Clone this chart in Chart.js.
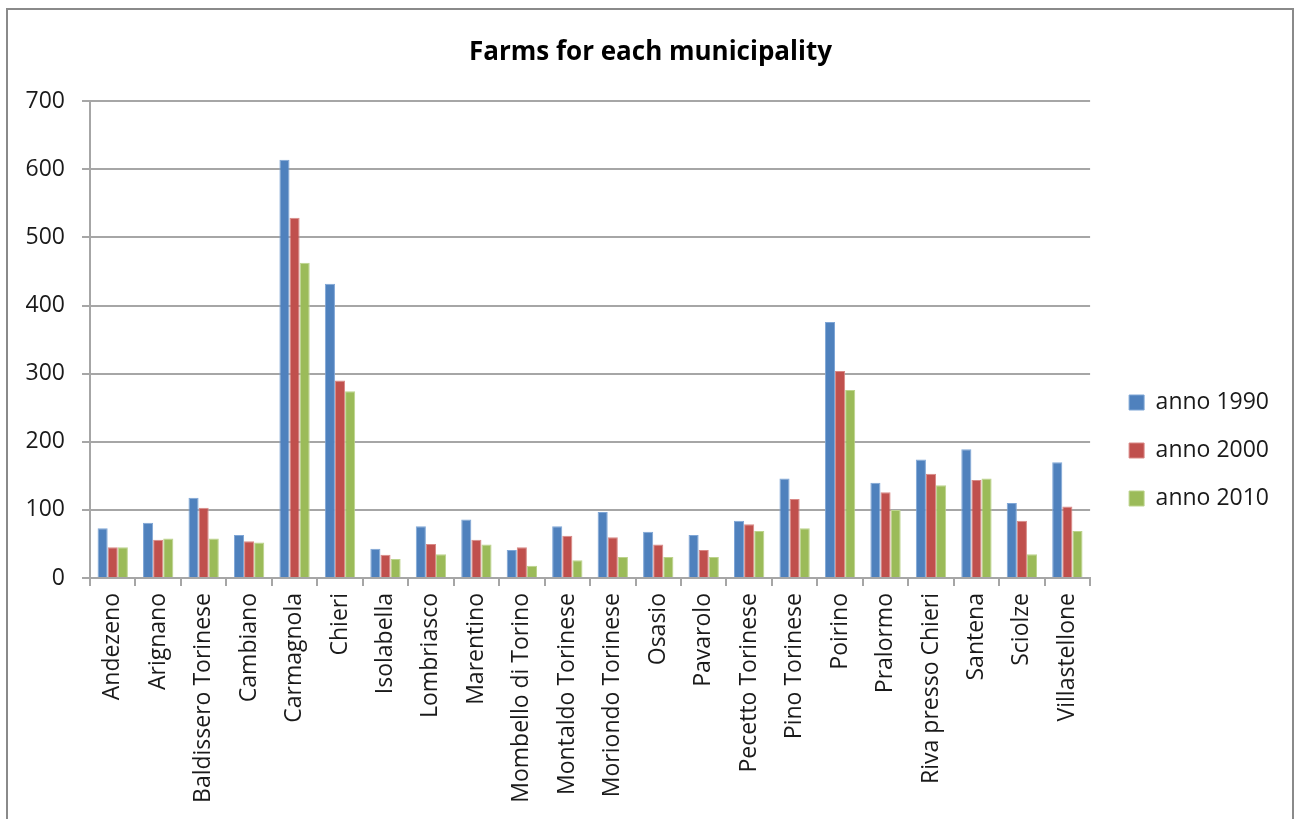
<!DOCTYPE html>
<html>
<head>
<meta charset="utf-8">
<title>Farms for each municipality</title>
<script src="https://cdn.jsdelivr.net/npm/chart.js@4.4.1/dist/chart.umd.min.js"></script>
<style>
  html, body { margin: 0; padding: 0; background: #fff; overflow: hidden; }
  #frame {
    position: absolute; left: 6px; top: 8px; width: 1288px; height: 900px;
    box-sizing: border-box; border: 2px solid #8a8a8a;
  }
  #wrap { position: absolute; left: 0; top: 0; width: 1295px; height: 819px; }
</style>
</head>
<body>
<div id="frame"></div>
<div id="wrap"><canvas id="farms-canvas" width="1295" height="819"></canvas></div>
<script>
const municipalities = [
    'Andezeno', 'Arignano', 'Baldissero Torinese', 'Cambiano', 'Carmagnola', 'Chieri',
    'Isolabella', 'Lombriasco', 'Marentino', 'Mombello di Torino', 'Montaldo Torinese',
    'Moriondo Torinese', 'Osasio', 'Pavarolo', 'Pecetto Torinese', 'Pino Torinese',
    'Poirino', 'Pralormo', 'Riva presso Chieri', 'Santena', 'Sciolze', 'Villastellone'
];
const farms1990 = [73, 81, 118, 63, 614, 432, 43, 76, 86, 41, 76, 97, 68, 63, 84, 146, 376, 140, 174, 189, 110, 170];
const farms2000 = [45, 56, 103, 54, 529, 290, 34, 50, 56, 45, 62, 60, 49, 41, 79, 116, 304, 126, 153, 144, 84, 105];
const farms2010 = [45, 58, 58, 52, 463, 274, 28, 35, 49, 18, 26, 31, 31, 31, 69, 73, 276, 100, 136, 146, 35, 69];

const FONT = "'Open Sans', 'Liberation Sans', sans-serif";
const GRID = '#a6a6a6';
const TEXT = '#1a1a1a';

// nudge legend and title to where Excel puts them
const boxShift = {
    id: 'boxShift',
    afterLayout(chart) {
        const lg = chart.legend;
        if (lg) {
            lg.left += 14; lg.right += 14;
            lg.top += 41; lg.bottom += 41;
        }
        const tt = chart.titleBlock;
        if (tt) {
            tt.left += 8; tt.right += 8;
        }
    }
};

const ctx = document.getElementById('farms-canvas').getContext('2d');
const farmsChart = new Chart(ctx, {
    type: 'bar',
    data: {
        labels: municipalities,
        datasets: [
            { label: 'anno 1990', data: farms1990, backgroundColor: '#4F81BD', borderColor: '#7fa6d6' },
            { label: 'anno 2000', data: farms2000, backgroundColor: '#C0504D', borderColor: '#d98986' },
            { label: 'anno 2010', data: farms2010, backgroundColor: '#9BBB59', borderColor: '#bcd38c' }
        ]
    },
    options: {
        responsive: false,
        animation: false,
        events: [],
        datasets: {
            bar: { categoryPercentage: 0.667, barPercentage: 1.0, borderWidth: 1 }
        },
        layout: { padding: { left: 20, right: 30, top: 0, bottom: 0 } },
        plugins: {
            title: {
                display: true,
                text: 'Farms for each municipality',
                color: '#000',
                font: { family: FONT, size: 26, weight: 'bold' },
                padding: { top: 37, bottom: 33 }
            },
            legend: {
                position: 'right',
                labels: {
                    color: TEXT,
                    font: { family: FONT, size: 23 },
                    boxWidth: 15,
                    boxHeight: 15,
                    padding: 25
                }
            },
            tooltip: { enabled: false }
        },
        scales: {
            x: {
                grid: {
                    display: true,
                    drawOnChartArea: false,
                    offset: true,
                    tickLength: 8,
                    color: GRID,
                    lineWidth: 2
                },
                border: { color: GRID, width: 2 },
                ticks: {
                    color: TEXT,
                    font: { family: FONT, size: 23 },
                    minRotation: 90,
                    maxRotation: 90,
                    autoSkip: false,
                    padding: 7
                },
                afterFit(scale) { scale.height = 241; }
            },
            y: {
                min: 0,
                max: 700,
                ticks: {
                    stepSize: 100,
                    color: TEXT,
                    font: { family: FONT, size: 23 },
                    padding: 17
                },
                grid: { color: GRID, tickLength: 8, lineWidth: 2 },
                border: { color: GRID, width: 2 },
                afterFit(scale) { scale.width = 70; }
            }
        }
    },
    plugins: [boxShift]
});
</script>
</body>
</html>
